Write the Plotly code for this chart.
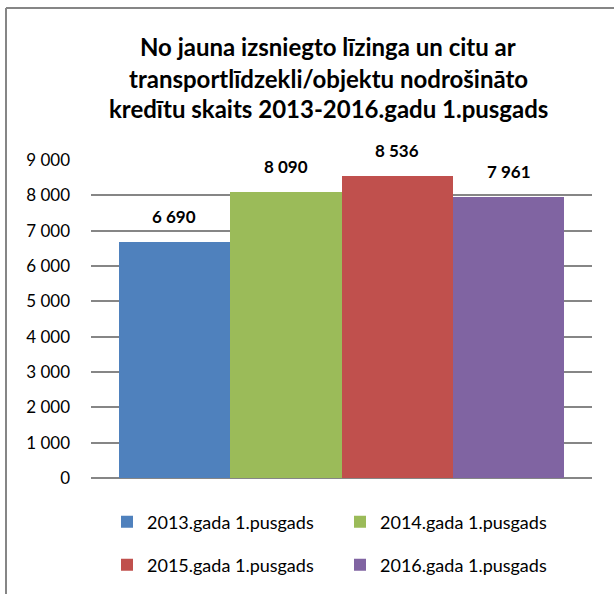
import plotly.graph_objects as go

series_names = ["2013.gada 1.pusgads", "2014.gada 1.pusgads", "2015.gada 1.pusgads", "2016.gada 1.pusgads"]
values = [6690, 8090, 8536, 7961]
colors = ["#4F81BD", "#9BBB59", "#C0504D", "#8064A2"]
title_lines = ["No jauna izsniegto līzinga un citu ar",
               "transportlīdzekli/objektu nodrošināto",
               "kredītu skaits 2013-2016.gadu 1.pusgads"]
tick_vals = [0, 1000, 2000, 3000, 4000, 5000, 6000, 7000, 8000, 9000]

FONT = "Lato"
PH = 318.0
PW = 501.0
EDGE_GAP = 0.247  # outer gap as a fraction of one bar width

fig = go.Figure()
for i, (name, v, c) in enumerate(zip(series_names, values, colors)):
    fig.add_trace(go.Bar(
        x=[name], y=[v], name=name, marker=dict(color=c, line=dict(width=0)),
        legend="legend" if i < 2 else "legend2",
        hovertemplate="%{x}: %{y:,}<extra></extra>",
    ))
    fig.add_annotation(x=name, y=v, xref="x", yref="y", text=f"<b>{v:,}</b>".replace(",", " "),
                       showarrow=False, yanchor="bottom", yshift=13,
                       font=dict(family=FONT, size=17, color="#000000"))

title_y = [46, 78, 109]
for line, yy in zip(title_lines, title_y):
    fig.add_annotation(text=f"<b>{line}</b>", xref="paper", yref="paper",
                       x=(328 - 91) / PW, y=1 + (160 - yy) / PH, xanchor="center", yanchor="middle",
                       showarrow=False, font=dict(family=FONT, size=24, color="#000000"))

legend_common = dict(orientation="h", xanchor="left", yanchor="middle",
                     entrywidth=188, font=dict(family=FONT, size=18, color="#000000"),
                     itemwidth=30, bgcolor="rgba(0,0,0,0)")

fig.update_layout(
    width=614, height=594,
    margin=dict(l=91, r=22, t=160, b=116, autoexpand=False),
    paper_bgcolor="white", plot_bgcolor="white",
    barmode="overlay", bargap=0,
    separators=", ",
    showlegend=True,
    legend=dict(x=(107 - 91) / PW, y=-(522 - 478) / PH, **legend_common),
    legend2=dict(x=(107 - 91) / PW, y=-(565 - 478) / PH, **legend_common),
    xaxis=dict(type="category", categoryorder="array", categoryarray=series_names,
               range=[-0.5 - EDGE_GAP, len(series_names) - 0.5 + EDGE_GAP],
               showticklabels=False, showline=False, ticks="", showgrid=False),
    yaxis=dict(range=[0, 9000], tickvals=tick_vals, tickformat=",d",
               showgrid=True, gridcolor="#868686", gridwidth=1.5,
               showline=False, zeroline=True, zerolinecolor="#868686", zerolinewidth=1.5,
               ticks="", ticklabelstandoff=20, automargin=False,
               tickfont=dict(family=FONT, size=17, color="#000000")),
    shapes=[
        dict(type="line", xref="paper", yref="paper", x0=-85 / PW, x1=1 + 22 / PW,
             y0=1 + 152 / PH, y1=1 + 152 / PH, line=dict(color="#868686", width=2)),
        dict(type="line", xref="paper", yref="paper", x0=-85 / PW, x1=-85 / PW,
             y0=1 + 152 / PH, y1=-116 / PH, line=dict(color="#868686", width=2)),
    ],
)

fig.write_html("out.html", post_script="document.body.style.margin='0';",
               config={"displayModeBar": False})
